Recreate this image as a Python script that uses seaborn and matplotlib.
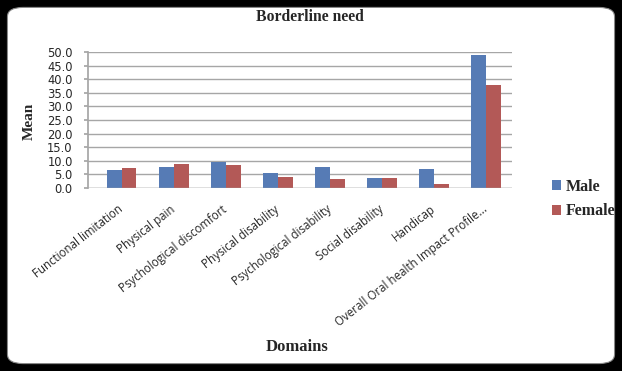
"""Borderline need: mean OHIP domain scores by sex."""
import pandas as pd
import matplotlib.pyplot as plt
import matplotlib.transforms as mtransforms
from matplotlib.patches import FancyBboxPatch
import seaborn as sns

DOMAINS = [
    "Functional limitation", "Physical pain", "Psychological discomfort",
    "Physical disability", "Psychological disability", "Social disability",
    "Handicap", "Overall Oral health Impact Profile...",
]
MALE = [6.5, 7.9, 9.6, 5.6, 7.8, 3.7, 7.0, 49.0]
FEMALE = [7.5, 8.9, 8.6, 4.1, 3.4, 3.7, 1.5, 37.7]
Y_TICKS = [0, 5, 10, 15, 20, 25, 30, 35, 40, 45, 50]

SERIF = "Liberation Serif"
SANS = "Open Sans"


def main():
    sns.set_theme(style="white")
    data = pd.DataFrame({
        "domain": DOMAINS * 2,
        "mean": MALE + FEMALE,
        "sex": ["Male"] * len(DOMAINS) + ["Female"] * len(DOMAINS),
    })

    fig = plt.figure(figsize=(6.22, 3.71), dpi=100)
    fig.patch.set_facecolor("black")
    panel = FancyBboxPatch(
        (0.012, 0.02), 0.976, 0.96, boxstyle="round,pad=0,rounding_size=0.025",
        transform=fig.transFigure, facecolor="white", edgecolor="#888888",
        linewidth=0.8, zorder=-10,
    )
    fig.patches.append(panel)

    # front axis: x 88..512 px, y 0 at 188 px, 50 at 52 px
    ax = fig.add_axes([88 / 622, 1 - 188 / 371, 424 / 622, 136 / 371])
    ax.set_facecolor("none")
    sns.barplot(
        data=data, x="domain", y="mean", hue="sex", order=DOMAINS,
        palette={"Male": "#4678C5", "Female": "#C24B48"},
        width=0.57, gap=0.02, edgecolor="none", ax=ax,
    )
    ax.set_xlim(-0.65, 7.5)
    ax.set_ylim(0, 50)
    ax.set_yticks(Y_TICKS)
    ax.set_yticklabels([f"{v:.1f}" for v in Y_TICKS], fontfamily="DejaVu Sans", fontsize=8.3)
    ax.yaxis.grid(True, color="#a6a6a6", linewidth=1.0)
    ax.set_axisbelow(True)
    for side in ["top", "right", "bottom"]:
        ax.spines[side].set_visible(False)
    ax.spines["left"].set_color("#a6a6a6")
    ax.axhline(0, color="#a6a6a6", linewidth=1.0)
    ax.tick_params(axis="y", length=3, color="#a6a6a6", pad=8, left=True)
    ax.tick_params(axis="x", length=0, pad=2)
    ax.set_xticks(range(len(DOMAINS)))
    ax.set_xticklabels(DOMAINS, rotation=38, ha="right", rotation_mode="anchor",
                       fontfamily=SANS, fontsize=8.3)
    shift = mtransforms.ScaledTranslation(-4 / 100, -12 / 100, fig.dpi_scale_trans)
    for label in ax.get_xticklabels():
        label.set_transform(label.get_transform() + shift)
    ax.set_xlabel("")
    ax.set_ylabel("")
    fig.text(29 / 622, 1 - 121 / 371, "Mean", rotation=90, ha="center", va="center",
             fontfamily=SERIF, fontweight="bold", fontsize=11)

    ax.legend_.remove()
    handles, labels = ax.get_legend_handles_labels()
    fig.legend(
        handles, labels, loc="center left", bbox_to_anchor=(0.864, 1 - 199 / 371),
        frameon=False, handlelength=0.55, handleheight=0.55, handletextpad=0.35,
        labelspacing=0.55, prop={"family": SERIF, "weight": "bold", "size": 11.5},
    )

    fig.text(310 / 622, 1 - 17 / 371, "Borderline need", ha="center", va="center",
             fontfamily=SERIF, fontweight="bold", fontsize=11.3)
    fig.text(297 / 622, 1 - 347 / 371, "Domains", ha="center", va="center",
             fontfamily=SERIF, fontweight="bold", fontsize=12)

    fig.savefig("out.png", dpi=100, facecolor=fig.get_facecolor())


if __name__ == "__main__":
    main()
